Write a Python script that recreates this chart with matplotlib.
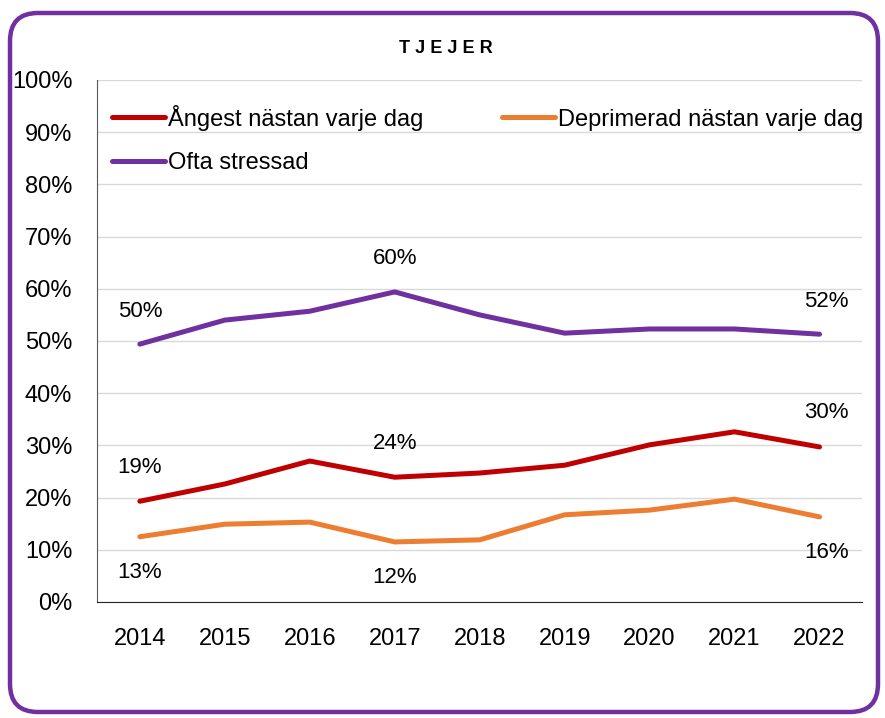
import matplotlib.pyplot as plt
from matplotlib.patches import FancyBboxPatch

# data
years = ['2014', '2015', '2016', '2017', '2018', '2019', '2020', '2021', '2022']
angest = [19.3, 22.6, 27.0, 23.9, 24.7, 26.2, 30.1, 32.6, 29.7]
deprimerad = [12.5, 14.9, 15.3, 11.5, 11.9, 16.7, 17.6, 19.7, 16.3]
stressad = [49.4, 54.0, 55.7, 59.4, 55.0, 51.5, 52.3, 52.3, 51.3]

# labelled points: (index, text)
angest_labels = [(0, '19%'), (3, '24%'), (8, '30%')]
deprimerad_labels = [(0, '13%'), (3, '12%'), (8, '16%')]
stressad_labels = [(0, '50%'), (3, '60%'), (8, '52%')]

yticks = [0, 10, 20, 30, 40, 50, 60, 70, 80, 90, 100]

red = '#C00000'
orange = '#ED7D31'
purple = '#7030A0'

plt.rcParams['font.family'] = ['Liberation Sans', 'DejaVu Sans']

fig = plt.figure(figsize=(8.85, 7.18), dpi=100)
ax = fig.add_axes([0.110, 0.1616, 0.864, 0.727])

x = list(range(len(years)))
l1, = ax.plot(x, angest, color=red, lw=3.6, label='Ångest nästan varje dag', solid_capstyle='round')
l2, = ax.plot(x, deprimerad, color=orange, lw=3.6, label='Deprimerad nästan varje dag', solid_capstyle='round')
l3, = ax.plot(x, stressad, color=purple, lw=3.6, label='Ofta stressad', solid_capstyle='round')

lab_font = dict(fontsize=16, ha='center', va='center')
for i, t in stressad_labels:
    dx = 7 if i == 8 else 0
    ax.annotate(t, (x[i], stressad[i]), xytext=(dx, 33), textcoords='offset pixels', **lab_font)
for i, t in angest_labels:
    dx = 7 if i == 8 else 0
    ax.annotate(t, (x[i], angest[i]), xytext=(dx, 34), textcoords='offset pixels', **lab_font)
for i, t in deprimerad_labels:
    dx = 7 if i == 8 else 0
    ax.annotate(t, (x[i], deprimerad[i]), xytext=(dx, -36), textcoords='offset pixels', **lab_font)

ax.set_xlim(-0.5, len(years) - 0.5)
ax.set_ylim(0, 100)
ax.set_yticks(yticks)
ax.set_yticklabels([f'{v}%' for v in yticks])
ax.set_xticks(x)
ax.set_xticklabels(years)
ax.tick_params(axis='both', length=0, labelsize=17)
ax.tick_params(axis='x', pad=19)
ax.tick_params(axis='y', pad=18)
ax.grid(axis='y', color='#d9d9d9', lw=1)
ax.set_axisbelow(True)
for s in ['top', 'right']:
    ax.spines[s].set_visible(False)
ax.spines['left'].set_color('#595959')
ax.spines['bottom'].set_color('#262626')

# row-major order like the original: Ångest, Deprimerad / Ofta stressad
leg = ax.legend([l1, l3, l2], [l1.get_label(), l3.get_label(), l2.get_label()],
                loc='upper left', bbox_to_anchor=(0.0, 0.98), ncol=2, frameon=False,
                fontsize=17, handlelength=2.25, handletextpad=0.13, columnspacing=3.35,
                labelspacing=0.92, borderaxespad=0.2)

fig.text(0.504, 0.933, 'T J E J E R', ha='center', va='center', fontsize=13, fontweight='bold')

# rounded purple frame
border = FancyBboxPatch((0.1, 0.06), 8.68, 6.99, boxstyle='round,pad=0,rounding_size=0.28',
                        transform=fig.dpi_scale_trans, fill=False, ec=purple, lw=3.2)
fig.patches.append(border)

fig.savefig('out.png', dpi=100)
